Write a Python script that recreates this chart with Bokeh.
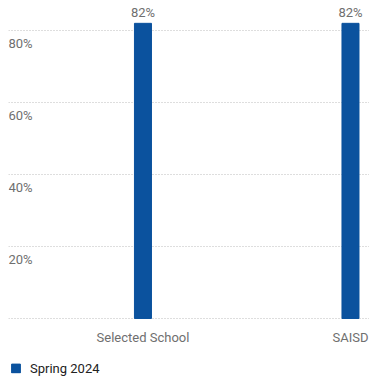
from bokeh.plotting import figure
from bokeh.layouts import column
from bokeh.models import ColumnDataSource, Range1d, FixedTicker, Legend, LegendItem
from bokeh.core.properties import value
from bokeh.embed import file_html
from bokeh.resources import INLINE

categories = ["Selected School", "SAISD"]
spring_2024 = [82, 82]
series_name = "Spring 2024"
y_ticks = [0, 20, 40, 60, 80]
y_tick_labels = ["", "20%", "40%", "60%", "80%"]

FONT = "Roboto"
GRAY = "#6f6f6f"
BLUE = "#0B529E"

x_start, x_end = -0.648, 1.0916
y_start, y_end = -0.556, 83.9

p = figure(output_backend="svg", toolbar_location=None,
           frame_width=361, frame_height=304,
           x_range=Range1d(x_start, x_end), y_range=Range1d(y_start, y_end),
           min_border_left=8, min_border_right=0, min_border_top=16, min_border_bottom=36)
p.outline_line_color = None
p.background_fill_color = "white"
p.border_fill_color = "white"

xs = list(range(len(categories)))
src = ColumnDataSource(dict(x=xs, top=spring_2024,
                            label=[f"{v}%" for v in spring_2024]))
bars = p.vbar(x="x", top="top", bottom=0, width=0.082, source=src,
              fill_color=BLUE, line_color=BLUE)
p.text(x="x", y="top", text="label", source=src, text_align="center",
       text_baseline="bottom", y_offset=-3, text_font=value(FONT),
       text_font_size="13px", text_color=GRAY, level="overlay")

# y tick labels drawn below their gridlines
tsrc = ColumnDataSource(dict(x=[x_start] * len(y_ticks), y=y_ticks, t=y_tick_labels))
p.text(x="x", y="y", text="t", source=tsrc, text_align="left",
       text_baseline="middle", y_offset=13, text_font=value(FONT),
       text_font_size="13px", text_color=GRAY)

p.yaxis.visible = False
p.yaxis.ticker = FixedTicker(ticks=y_ticks)
p.ygrid.ticker = FixedTicker(ticks=y_ticks)
p.ygrid.grid_line_color = "#bdbdbd"
p.ygrid.grid_line_dash = "1 2"
p.ygrid.grid_line_width = 1
p.xgrid.visible = False

p.xaxis.ticker = FixedTicker(ticks=xs)
p.xaxis.major_label_overrides = {i: c for i, c in enumerate(categories)}
p.xaxis.axis_line_color = None
p.xaxis.major_tick_line_color = None
p.xaxis.minor_tick_line_color = None
p.xaxis.major_tick_out = 0
p.xaxis.major_tick_in = 0
p.xaxis.major_label_standoff = 9
p.xaxis.major_label_text_font = FONT
p.xaxis.major_label_text_font_size = "13px"
p.xaxis.major_label_text_color = GRAY

# legend strip
lg = figure(output_backend="svg", toolbar_location=None, width=369, height=23,
            x_axis_type=None, y_axis_type=None,
            x_range=Range1d(0, 1), y_range=Range1d(0, 1),
            min_border_left=0, min_border_right=0, min_border_top=0, min_border_bottom=0)
lg.outline_line_color = None
lg.grid.visible = False
lbar = lg.vbar(x=[-5], top=[-5], bottom=-6, width=0.1,
               fill_color=BLUE, line_color=BLUE)
legend = Legend(items=[LegendItem(label=series_name, renderers=[bar for bar in [lbar]])],
                location="center_left", orientation="horizontal",
                glyph_width=11, glyph_height=11, label_text_font=FONT,
                label_text_font_size="13px", label_text_color="#222222",
                border_line_color=None, background_fill_alpha=0,
                padding=0, margin=2, spacing=0, label_standoff=9)
lg.add_layout(legend, "center")

layout = column(p, lg, spacing=0)
open("out.html", "w").write(file_html(layout, INLINE))
